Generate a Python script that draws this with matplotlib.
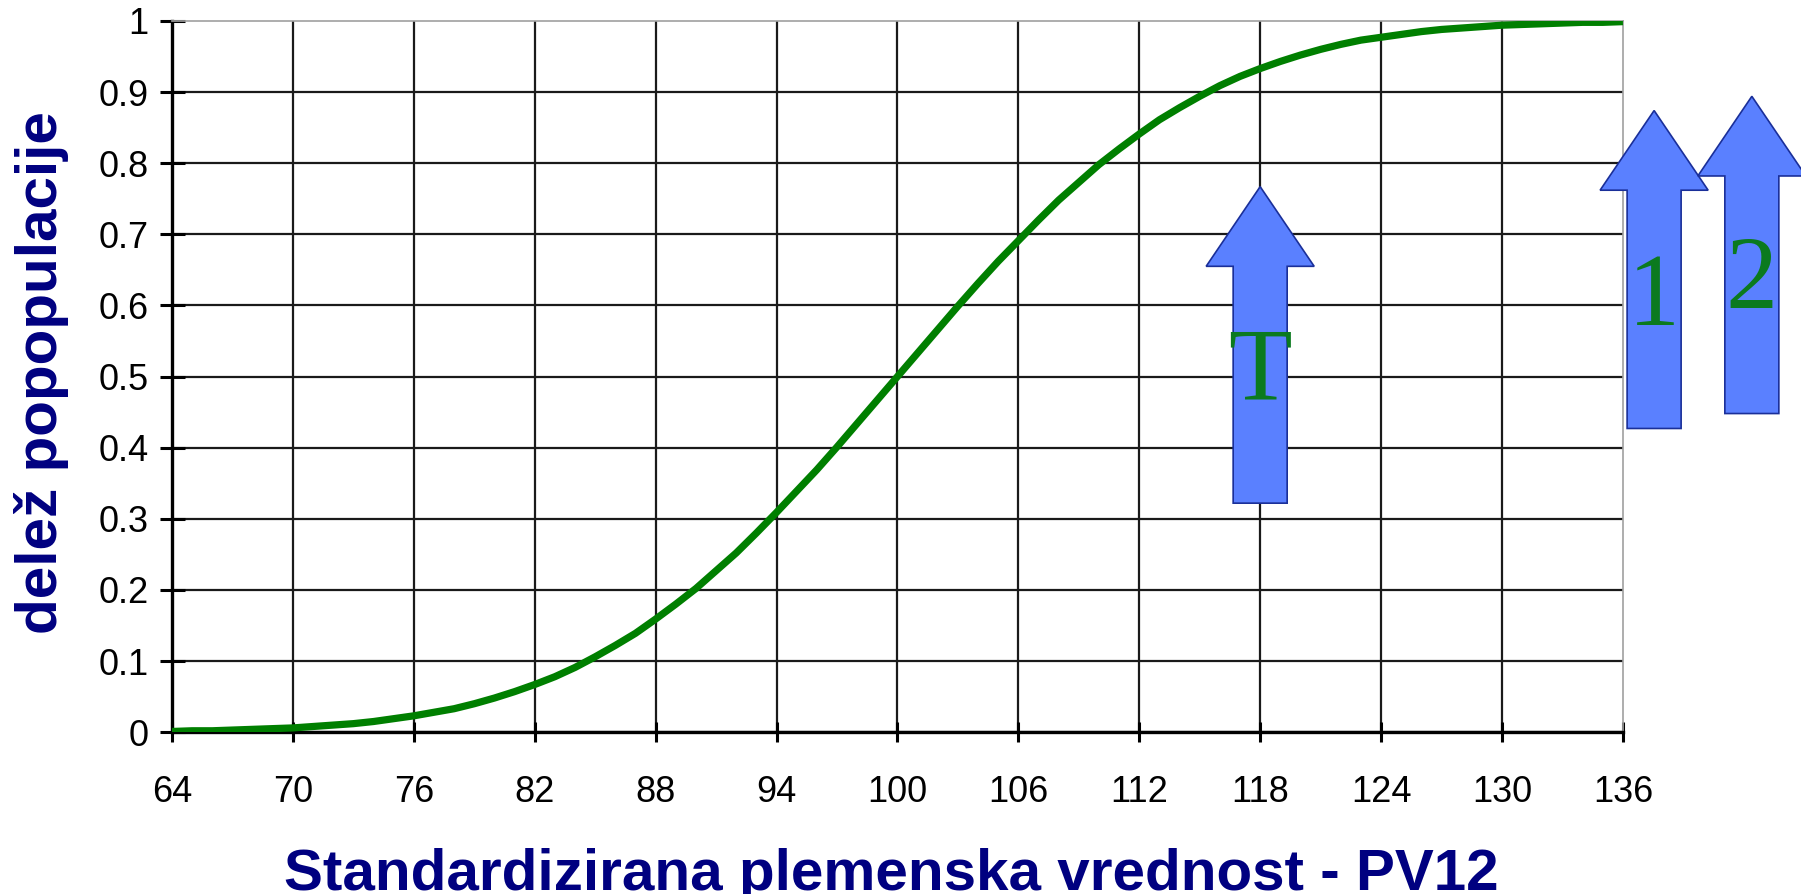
import matplotlib
matplotlib.use("Agg")
import matplotlib.pyplot as plt
from matplotlib.patches import FancyArrow

# values (one per unit of PV12)
pv12 = list(range(64, 137))
delez = [0.001, 0.002, 0.002, 0.003, 0.004, 0.005, 0.006, 0.008, 0.010, 0.012,
         0.015, 0.019, 0.023, 0.028, 0.033, 0.040, 0.048, 0.057, 0.067, 0.078,
         0.091, 0.106, 0.122, 0.139, 0.159, 0.180, 0.202, 0.227, 0.252, 0.280,
         0.309, 0.339, 0.369, 0.401, 0.434, 0.467, 0.500, 0.533, 0.566, 0.599,
         0.631, 0.662, 0.691, 0.720, 0.748, 0.773, 0.798, 0.820, 0.841, 0.861,
         0.878, 0.894, 0.909, 0.922, 0.933, 0.943, 0.952, 0.960, 0.967, 0.973,
         0.977, 0.981, 0.985, 0.988, 0.990, 0.992, 0.994, 0.995, 0.996, 0.997,
         0.998, 0.998, 0.999]

x_ticks = list(range(64, 137, 6))
y_ticks = [0, 0.1, 0.2, 0.3, 0.4, 0.5, 0.6, 0.7, 0.8, 0.9, 1]
y_tick_labels = ["0", "0.1", "0.2", "0.3", "0.4", "0.5", "0.6", "0.7", "0.8", "0.9", "1"]

# arrows: label, x, tail y, tip y, label y
arrow_labels = ["T", "1", "2"]
arrow_x = [118, 137.55, 142.4]
arrow_tail = [0.322, 0.427, 0.448]
arrow_tip = [0.767, 0.874, 0.894]
arrow_text_y = [0.503, 0.608, 0.632]

plt.rcParams["font.family"] = ["Liberation Sans", "DejaVu Sans"]

fig = plt.figure(figsize=(18.01, 8.94), dpi=100)
ax = fig.add_axes([0.0955, 0.181, 0.8056, 0.7956])

ax.plot(pv12, delez, color="#007f00", lw=5.2, zorder=4, solid_capstyle="butt")

ax.set_xlim(64, 136)
ax.set_ylim(0, 1)
ax.set_xticks(x_ticks)
ax.set_xticklabels([str(v) for v in x_ticks])
ax.set_yticks(y_ticks)
ax.set_yticklabels(y_tick_labels)

ax.grid(True, color="#1a1a1a", lw=1.6)
ax.xaxis.get_gridlines()[-1].set_visible(False)
ax.yaxis.get_gridlines()[-1].set_visible(False)
ax.set_axisbelow(True)

for side in ["left", "bottom"]:
    ax.spines[side].set_linewidth(2.4)
    ax.spines[side].set_color("black")
for side in ["top", "right"]:
    ax.spines[side].set_linewidth(1.2)
    ax.spines[side].set_color("#a0a0a0")

ax.tick_params(axis="y", direction="inout", length=18, width=2.2, labelsize=26, pad=8)
ax.tick_params(axis="x", direction="inout", length=14, width=2.2, labelsize=26, pad=24)

ax.set_xlabel("Standardizirana plemenska vrednost - PV12", fontsize=42,
              fontweight="bold", color="#000080", va="baseline")
ax.xaxis.set_label_coords(0.4955, -0.222)
ax.set_ylabel("delež popopulacije", fontsize=42, fontweight="bold",
              color="#000080", va="center")
ax.yaxis.set_label_coords(-0.09, 0.505)

for lab, x, y0, y1, ty in zip(arrow_labels, arrow_x, arrow_tail, arrow_tip, arrow_text_y):
    arr = FancyArrow(x, y0, 0, y1 - y0, width=2.68, head_width=5.36,
                     head_length=0.112, length_includes_head=True,
                     facecolor="#5a80ff", edgecolor="#1a2f99", lw=1.2,
                     zorder=6, clip_on=False)
    ax.add_patch(arr)
    ax.text(x, ty, lab, family=["Liberation Serif", "DejaVu Serif"], fontsize=75,
            color="#0b7a1f", ha="center", va="center", zorder=7, clip_on=False)

fig.savefig("out.png", dpi=100)
